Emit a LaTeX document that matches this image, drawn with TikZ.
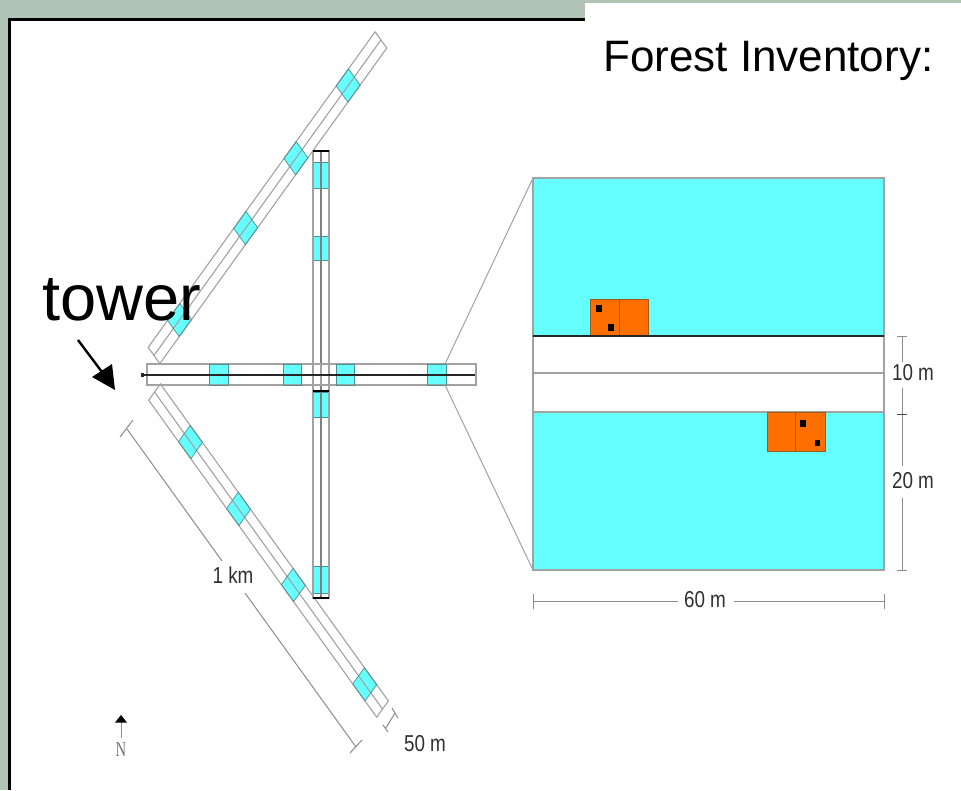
\documentclass[tikz,border=0pt]{standalone}
\usepackage{fontspec}
\setmainfont{Liberation Sans}
\newfontfamily\northfont{Liberation Serif}
\definecolor{sagebg}{HTML}{B1C3B5}
\definecolor{plotcyan}{HTML}{66FFFF}
\definecolor{plotedge}{HTML}{4F8F92}
\definecolor{plotorange}{HTML}{FF6F00}
\definecolor{orangeedge}{HTML}{9A5A20}
\definecolor{stripgrey}{HTML}{A2A2A2}
\definecolor{dimgrey}{HTML}{8C8C8C}
\definecolor{dimtext}{HTML}{303030}
\tikzset{
  stripline/.style={draw=stripgrey,line width=1.1pt},
  plotbox/.style={fill=plotcyan,draw=plotedge,line width=0.7pt},
  dimline/.style={draw=dimgrey,line width=1pt},
  zoomline/.style={draw=stripgrey,line width=1pt},
  orangebox/.style={fill=plotorange,draw=orangeedge,line width=0.9pt},
  stem/.style={fill=black,draw=none},
  dimlabel/.style={inner sep=0pt,text=dimtext,font=\fontsize{23}{25}\selectfont},
  titletext/.style={inner sep=0pt,anchor=base west,text=black},
}
\newcommand{\narrow}[1]{\scalebox{0.82}[1]{#1}}
\begin{document}
\begin{tikzpicture}[x=1pt,y=-1pt]
\useasboundingbox (0,0) rectangle (961,790);
% page
\fill[sagebg] (0,0) rectangle (961,790);
\fill[white] (9,19) rectangle (961,790);
\fill[sagebg] (560,0) rectangle (585,18);
\fill[black] (8,18) rectangle (585,21);
\fill[black] (8,18) rectangle (11,790);
\fill[white] (585,3) rectangle (961,100);

% NE strip
\begin{scope}[cm={0.584,0.812,-0.584,0.812,(154,355.5)}]
  \foreach \s in {43.7,157,243,332.5}
    \fill[plotcyan] (\s-10.5,-10) rectangle (\s+10.5,10);
  \draw[stripline] (0,-10) rectangle (388.6,10);
  \draw[stripline] (0,0) -- (388.6,0);
  \foreach \s in {43.7,157,243,332.5}
    \draw[plotbox,fill opacity=0] (\s-10.5,-10) rectangle (\s+10.5,10);
\end{scope}
% SE strip
\begin{scope}[cm={0.584,-0.812,0.584,0.812,(154.5,392)}]
  \foreach \s in {61.6,144,237.7,360}
    \fill[plotcyan] (\s-10.5,-10) rectangle (\s+10.5,10);
  \draw[stripline] (0,-10) rectangle (390.4,10);
  \draw[stripline] (0,0) -- (390.4,0);
  \foreach \s in {61.6,144,237.7,360}
    \draw[plotbox,fill opacity=0] (\s-10.5,-10) rectangle (\s+10.5,10);
\end{scope}
% vertical strip
\foreach \a/\b in {162/188,236/260,392/417,566/593}
  \draw[plotbox] (313,\a) rectangle (329,\b);
\draw[stripline] (313,151) rectangle (329,598);
\draw[stripline,draw=gray] (321,151) -- (321,598);
\foreach \y in {151,391,598}
  \draw[black,line width=1.3pt] (313,\y) -- (329,\y);
% horizontal strip
\foreach \a/\b in {209/228,283/301,336/354,427/446}
  \fill[plotcyan] (\a,364) rectangle (\b,385);
\draw[stripline] (147,364) rectangle (476,385);
\foreach \a/\b in {209/228,283/301,336/354,427/446}
  \draw[plotbox,fill opacity=0] (\a,364) rectangle (\b,385);
\draw[stripgrey,line width=1.1pt] (313,364) -- (313,385) (329,364) -- (329,385) (321,364) -- (321,385);
\coordinate (towerdot) at (142,375);
\coordinate (lineend) at (475,375);
\fill[black!85] (140.5,373) rectangle (144,377);
\draw[black!85,line width=1.2pt] (towerdot) -- (lineend);

% enlargement
\coordinate (stripNE) at (445,364);
\coordinate (stripSE) at (445,385);
\coordinate (bigNW) at (533,178);
\coordinate (bigSW) at (533,570);
\draw[zoomline] (stripNE) -- (bigNW);
\draw[zoomline] (stripSE) -- (bigSW);
\fill[plotcyan] (533,178) rectangle (884,570);
\fill[white] (533,336) rectangle (884,412);
\draw[stripline] (533,178) rectangle (884,570);
\draw[stripline] (533,373) -- (884,373);
\draw[stripline] (533,412) -- (884,412);
\draw[orangebox] (590,299) rectangle (648,336);
\draw[orangeedge,line width=0.9pt] (619,299) -- (619,336);
\draw[orangebox] (767,412) rectangle (825,451);
\draw[orangeedge,line width=0.9pt] (795,412) -- (795,451);
\draw[black!85,line width=1.3pt] (533,336) -- (884,336);
\fill[stem] (595.5,305) rectangle (601.5,312);
\fill[stem] (608,323.5) rectangle (614,330.5);
\fill[stem] (800,420) rectangle (806,427);
\fill[stem] (814.5,440) rectangle (820,446);

% dimension right
\node[dimlabel] (dimten) at (913,373) {\narrow{10 m}};
\node[dimlabel] (dimtwenty) at (913,481) {\narrow{20 m}};
\node[dimlabel] (dimsixty) at (705,600) {\narrow{60 m}};
\draw[dimline] (897,336) -- (907,336);
\draw[dimline] (902,336) -- (902,362);
\draw[dimline] (902,388) -- (902,466);
\draw[dimline,black!70] (897,414) -- (907,414);
\draw[dimline] (902,498) -- (902,570);
\draw[dimline] (897,570) -- (907,570);
\draw[dimline] (533,594) -- (533,609);
\draw[dimline] (533,601) -- (678,601);
\draw[dimline] (734,601) -- (884,601);
\draw[dimline] (884,594) -- (884,609);

% dimension 1 km
\node[dimlabel] (dimkm) at (233,575) {\narrow{1 km}};
\draw[dimline] (120,437) -- (133,420);
\draw[dimline] (127,429) -- (222,561);
\draw[dimline] (245,593) -- (356,747);
\draw[dimline] (350,753) -- (362,740);
% dimension 50 m
\node[dimlabel] (dimfifty) at (425,744) {\narrow{50 m}};
\draw[dimline] (383,725) -- (388,732);
\draw[dimline] (392,708) -- (398,718);
\draw[dimline] (385.5,728.5) -- (395,713);

% north
\draw[dimline] (121,720) -- (121,738);
\fill[black] (121,715) -- (127,722.5) -- (115,722.5) -- cycle;
\node[inner sep=0pt,text=black!55,font=\northfont\fontsize{21}{22}\selectfont] (north) at (121,750) {\scalebox{0.7}[1]{N}};

% titles
\node[titletext,font=\fontsize{65}{70}\selectfont] (tower) at (42,320) {tower};
\node[titletext,font=\fontsize{44}{50}\selectfont] (forest) at (603,71) {Forest Inventory:};
% tower arrow
\coordinate (arrowstart) at (78,340);
\coordinate (arrowtip) at (115,390);
\draw[black,line width=2.4pt] (arrowstart) -- (102,372);
\fill[black] (arrowtip) -- (92,377) -- (112,364) -- cycle;
\end{tikzpicture}
\end{document}
